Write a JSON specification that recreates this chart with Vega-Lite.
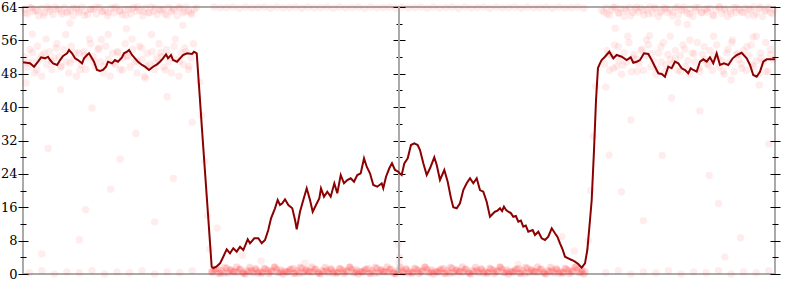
{
"$schema": "https://vega.github.io/schema/vega-lite/v6.json",
"width": 752, "height": 267,
"autosize": {"type": "none"},
"padding": {"left": 23, "top": 7, "right": 25, "bottom": 26},
"background": "white",
"config": {"view": {"stroke": "#aaaaaa", "strokeWidth": 2}, "axis": {"labelFont": "DejaVu Serif", "labelFontSize": 13, "labelColor": "#000000", "tickColor": "#000000", "tickWidth": 1, "domain": false, "grid": false, "zindex": 1}},
"datasets": {
"pts": [
{"x":-5.98,"y":63.5},{"x":-5.93,"y":62.3},{"x":-5.89,"y":63.9},{"x":-5.84,"y":62.9},{"x":-5.80,"y":63.2},{"x":-5.75,"y":61.9},{"x":-5.70,"y":63.7},{"x":-5.66,"y":62.6},{"x":-5.61,"y":64},{"x":-5.57,"y":63},{"x":-5.52,"y":62.2},{"x":-5.47,"y":63.4},
{"x":-5.43,"y":63.5},{"x":-5.38,"y":62.3},{"x":-5.34,"y":63.9},{"x":-5.29,"y":62.9},{"x":-5.24,"y":63.2},{"x":-5.20,"y":61.9},{"x":-5.15,"y":63.7},{"x":-5.11,"y":62.6},{"x":-5.06,"y":64},{"x":-5.01,"y":63},{"x":-4.97,"y":62.2},{"x":-4.92,"y":63.4},
{"x":-4.88,"y":63.5},{"x":-4.83,"y":62.3},{"x":-4.78,"y":63.9},{"x":-4.74,"y":62.9},{"x":-4.69,"y":63.2},{"x":-4.65,"y":61.9},{"x":-4.60,"y":63.7},{"x":-4.55,"y":62.6},{"x":-4.51,"y":64},{"x":-4.46,"y":63},{"x":-4.42,"y":62.2},{"x":-4.37,"y":63.4},
{"x":-4.32,"y":63.5},{"x":-4.28,"y":62.3},{"x":-4.23,"y":63.9},{"x":-4.19,"y":62.9},{"x":-4.14,"y":63.2},{"x":-4.09,"y":61.9},{"x":-4.05,"y":63.7},{"x":-4.00,"y":62.6},{"x":-3.96,"y":64},{"x":-3.91,"y":63},{"x":-3.86,"y":62.2},{"x":-3.82,"y":63.4},
{"x":-3.77,"y":63.5},{"x":-3.73,"y":62.3},{"x":-3.68,"y":63.9},{"x":-3.63,"y":62.9},{"x":-3.59,"y":63.2},{"x":-3.54,"y":61.9},{"x":-3.50,"y":63.7},{"x":-3.45,"y":62.6},{"x":-3.40,"y":64},{"x":-3.36,"y":63},{"x":-3.31,"y":62.2},{"x":-3.27,"y":63.4},
{"x":-5.96,"y":62.6},{"x":-5.86,"y":63.8},{"x":-5.77,"y":63.1},{"x":-5.67,"y":62.0},{"x":-5.58,"y":63.5},{"x":-5.49,"y":64},{"x":-5.39,"y":62.9},{"x":-5.30,"y":62.6},{"x":-5.20,"y":63.8},{"x":-5.11,"y":63.1},{"x":-5.02,"y":62.0},{"x":-4.92,"y":63.5},{"x":-4.83,"y":64},{"x":-4.73,"y":62.9},{"x":-4.64,"y":62.6},
{"x":-4.55,"y":63.8},{"x":-4.45,"y":63.1},{"x":-4.36,"y":62.0},{"x":-4.26,"y":63.5},{"x":-4.17,"y":64},{"x":-4.08,"y":62.9},{"x":-3.98,"y":62.6},{"x":-3.89,"y":63.8},{"x":-3.79,"y":63.1},{"x":-3.70,"y":62.0},{"x":-3.61,"y":63.5},{"x":-3.51,"y":64},{"x":-3.42,"y":62.9},{"x":-3.32,"y":62.6},{"x":-3.23,"y":63.8},
{"x":3.27,"y":62.8},{"x":3.31,"y":63.8},{"x":3.36,"y":62.1},{"x":3.40,"y":63.3},{"x":3.45,"y":64},{"x":3.50,"y":62.5},{"x":3.54,"y":63.6},{"x":3.59,"y":61.7},{"x":3.63,"y":63.1},{"x":3.68,"y":63.9},{"x":3.73,"y":62.7},{"x":3.77,"y":63.4},
{"x":3.82,"y":62.8},{"x":3.86,"y":63.8},{"x":3.91,"y":62.1},{"x":3.96,"y":63.3},{"x":4.00,"y":64},{"x":4.05,"y":62.5},{"x":4.09,"y":63.6},{"x":4.14,"y":61.7},{"x":4.19,"y":63.1},{"x":4.23,"y":63.9},{"x":4.28,"y":62.7},{"x":4.32,"y":63.4},
{"x":4.37,"y":62.8},{"x":4.42,"y":63.8},{"x":4.46,"y":62.1},{"x":4.51,"y":63.3},{"x":4.55,"y":64},{"x":4.60,"y":62.5},{"x":4.65,"y":63.6},{"x":4.69,"y":61.7},{"x":4.74,"y":63.1},{"x":4.78,"y":63.9},{"x":4.83,"y":62.7},{"x":4.88,"y":63.4},
{"x":4.92,"y":62.8},{"x":4.97,"y":63.8},{"x":5.01,"y":62.1},{"x":5.06,"y":63.3},{"x":5.11,"y":64},{"x":5.15,"y":62.5},{"x":5.20,"y":63.6},{"x":5.24,"y":61.7},{"x":5.29,"y":63.1},{"x":5.34,"y":63.9},{"x":5.38,"y":62.7},{"x":5.43,"y":63.4},
{"x":5.47,"y":62.8},{"x":5.52,"y":63.8},{"x":5.57,"y":62.1},{"x":5.61,"y":63.3},{"x":5.66,"y":64},{"x":5.70,"y":62.5},{"x":5.75,"y":63.6},{"x":5.80,"y":61.7},{"x":5.84,"y":63.1},{"x":5.89,"y":63.9},{"x":5.93,"y":62.7},{"x":5.98,"y":63.4},
{"x":3.23,"y":63.2},{"x":3.32,"y":62.4},{"x":3.42,"y":63.9},{"x":3.51,"y":62.7},{"x":3.61,"y":63.6},{"x":3.70,"y":61.9},{"x":3.79,"y":64},{"x":3.89,"y":63.2},{"x":3.98,"y":62.4},{"x":4.08,"y":63.9},{"x":4.17,"y":62.7},{"x":4.26,"y":63.6},{"x":4.36,"y":61.9},{"x":4.45,"y":64},{"x":4.55,"y":63.2},
{"x":4.64,"y":62.4},{"x":4.73,"y":63.9},{"x":4.83,"y":62.7},{"x":4.92,"y":63.6},{"x":5.02,"y":61.9},{"x":5.11,"y":64},{"x":5.20,"y":63.2},{"x":5.30,"y":62.4},{"x":5.39,"y":63.9},{"x":5.49,"y":62.7},{"x":5.58,"y":63.6},{"x":5.67,"y":61.9},{"x":5.77,"y":64},{"x":5.86,"y":63.2},{"x":5.96,"y":62.4},
{"x":-5.97,"y":52.1},{"x":-5.93,"y":49.6},{"x":-5.89,"y":53.8},{"x":-5.85,"y":50.9},{"x":-5.81,"y":48.2},{"x":-5.77,"y":54.6},{"x":-5.74,"y":51.5},{"x":-5.70,"y":47.4},{"x":-5.66,"y":52.9},{"x":-5.62,"y":50.2},{"x":-5.58,"y":53.3},{"x":-5.54,"y":49},{"x":-5.50,"y":51.8},{"x":-5.46,"y":55.2},
{"x":-5.42,"y":52.1},{"x":-5.39,"y":49.6},{"x":-5.35,"y":53.8},{"x":-5.31,"y":50.9},{"x":-5.27,"y":48.2},{"x":-5.23,"y":54.6},{"x":-5.19,"y":51.5},{"x":-5.15,"y":47.4},{"x":-5.11,"y":52.9},{"x":-5.07,"y":50.2},{"x":-5.03,"y":53.3},{"x":-5.00,"y":49},{"x":-4.96,"y":51.8},{"x":-4.92,"y":55.2},
{"x":-4.88,"y":52.1},{"x":-4.84,"y":49.6},{"x":-4.80,"y":53.8},{"x":-4.76,"y":50.9},{"x":-4.72,"y":48.2},{"x":-4.68,"y":54.6},{"x":-4.64,"y":51.5},{"x":-4.61,"y":47.4},{"x":-4.57,"y":52.9},{"x":-4.53,"y":50.2},{"x":-4.49,"y":53.3},{"x":-4.45,"y":49},{"x":-4.41,"y":51.8},{"x":-4.37,"y":55.2},
{"x":-4.33,"y":52.1},{"x":-4.29,"y":49.6},{"x":-4.25,"y":53.8},{"x":-4.22,"y":50.9},{"x":-4.18,"y":48.2},{"x":-4.14,"y":54.6},{"x":-4.10,"y":51.5},{"x":-4.06,"y":47.4},{"x":-4.02,"y":52.9},{"x":-3.98,"y":50.2},{"x":-3.94,"y":53.3},{"x":-3.90,"y":49},{"x":-3.86,"y":51.8},{"x":-3.83,"y":55.2},
{"x":-3.79,"y":52.1},{"x":-3.75,"y":49.6},{"x":-3.71,"y":53.8},{"x":-3.67,"y":50.9},{"x":-3.63,"y":48.2},{"x":-3.59,"y":54.6},{"x":-3.55,"y":51.5},{"x":-3.51,"y":47.4},{"x":-3.47,"y":52.9},{"x":-3.44,"y":50.2},{"x":-3.40,"y":53.3},{"x":-3.36,"y":49},{"x":-3.32,"y":51.8},{"x":-3.28,"y":55.2},
{"x":-5.93,"y":50.6},{"x":-5.85,"y":53.1},{"x":-5.78,"y":48.9},{"x":-5.70,"y":52.4},{"x":-5.63,"y":56.3},{"x":-5.55,"y":51.0},{"x":-5.47,"y":54.2},{"x":-5.40,"y":49.8},{"x":-5.32,"y":57.4},{"x":-5.25,"y":50.6},{"x":-5.17,"y":53.1},{"x":-5.09,"y":48.9},
{"x":-5.02,"y":52.4},{"x":-4.94,"y":56.3},{"x":-4.87,"y":51.0},{"x":-4.79,"y":54.2},{"x":-4.71,"y":49.8},{"x":-4.64,"y":57.4},{"x":-4.56,"y":50.6},{"x":-4.49,"y":53.1},{"x":-4.41,"y":48.9},{"x":-4.33,"y":52.4},{"x":-4.26,"y":56.3},{"x":-4.18,"y":51.0},
{"x":-4.11,"y":54.2},{"x":-4.03,"y":49.8},{"x":-3.95,"y":57.4},{"x":-3.88,"y":50.6},{"x":-3.80,"y":53.1},{"x":-3.73,"y":48.9},{"x":-3.65,"y":52.4},{"x":-3.57,"y":56.3},{"x":-3.50,"y":51.0},{"x":-3.42,"y":54.2},{"x":-3.35,"y":49.8},
{"x":3.28,"y":50.4},{"x":3.32,"y":53.6},{"x":3.36,"y":48.8},{"x":3.40,"y":52.3},{"x":3.44,"y":54.9},{"x":3.47,"y":49.7},{"x":3.51,"y":51.1},{"x":3.55,"y":47.9},{"x":3.59,"y":53},{"x":3.63,"y":50.8},{"x":3.67,"y":55.5},{"x":3.71,"y":48.5},{"x":3.75,"y":52.6},{"x":3.79,"y":51.4},
{"x":3.83,"y":50.4},{"x":3.86,"y":53.6},{"x":3.90,"y":48.8},{"x":3.94,"y":52.3},{"x":3.98,"y":54.9},{"x":4.02,"y":49.7},{"x":4.06,"y":51.1},{"x":4.10,"y":47.9},{"x":4.14,"y":53},{"x":4.18,"y":50.8},{"x":4.22,"y":55.5},{"x":4.25,"y":48.5},{"x":4.29,"y":52.6},{"x":4.33,"y":51.4},
{"x":4.37,"y":50.4},{"x":4.41,"y":53.6},{"x":4.45,"y":48.8},{"x":4.49,"y":52.3},{"x":4.53,"y":54.9},{"x":4.57,"y":49.7},{"x":4.61,"y":51.1},{"x":4.64,"y":47.9},{"x":4.68,"y":53},{"x":4.72,"y":50.8},{"x":4.76,"y":55.5},{"x":4.80,"y":48.5},{"x":4.84,"y":52.6},{"x":4.88,"y":51.4},
{"x":4.92,"y":50.4},{"x":4.96,"y":53.6},{"x":5.00,"y":48.8},{"x":5.03,"y":52.3},{"x":5.07,"y":54.9},{"x":5.11,"y":49.7},{"x":5.15,"y":51.1},{"x":5.19,"y":47.9},{"x":5.23,"y":53},{"x":5.27,"y":50.8},{"x":5.31,"y":55.5},{"x":5.35,"y":48.5},{"x":5.39,"y":52.6},{"x":5.42,"y":51.4},
{"x":5.46,"y":50.4},{"x":5.50,"y":53.6},{"x":5.54,"y":48.8},{"x":5.58,"y":52.3},{"x":5.62,"y":54.9},{"x":5.66,"y":49.7},{"x":5.70,"y":51.1},{"x":5.74,"y":47.9},{"x":5.77,"y":53},{"x":5.81,"y":50.8},{"x":5.85,"y":55.5},{"x":5.89,"y":48.5},{"x":5.93,"y":52.6},{"x":5.97,"y":51.4},
{"x":3.35,"y":52.8},{"x":3.42,"y":49.3},{"x":3.50,"y":54.5},{"x":3.57,"y":50.1},{"x":3.65,"y":57.0},{"x":3.73,"y":51.7},{"x":3.80,"y":48.6},{"x":3.88,"y":53.9},{"x":3.95,"y":56.1},{"x":4.03,"y":52.8},{"x":4.11,"y":49.3},{"x":4.18,"y":54.5},
{"x":4.26,"y":50.1},{"x":4.33,"y":57.0},{"x":4.41,"y":51.7},{"x":4.49,"y":48.6},{"x":4.56,"y":53.9},{"x":4.64,"y":56.1},{"x":4.71,"y":52.8},{"x":4.79,"y":49.3},{"x":4.87,"y":54.5},{"x":4.94,"y":50.1},{"x":5.02,"y":57.0},{"x":5.09,"y":51.7},
{"x":5.17,"y":48.6},{"x":5.25,"y":53.9},{"x":5.32,"y":56.1},{"x":5.40,"y":52.8},{"x":5.47,"y":49.3},{"x":5.55,"y":54.5},{"x":5.63,"y":50.1},{"x":5.70,"y":57.0},{"x":5.78,"y":51.7},{"x":5.85,"y":48.6},{"x":5.93,"y":53.9},
{"x":-5.85,"y":57.5},{"x":-5.4,"y":44.2},{"x":-4.9,"y":39.8},{"x":-4.35,"y":58.8},{"x":-3.7,"y":42.5},{"x":-5.6,"y":30.1},{"x":-4.6,"y":20.3},{"x":-3.9,"y":12.5},{"x":-5.1,"y":8.2},{"x":-4.2,"y":33.7},{"x":-3.45,"y":59.6},{"x":-5.95,"y":45.8},{"x":-4.75,"y":56.2},{"x":-3.3,"y":36.4},{"x":-5.25,"y":60.1},{"x":-4.05,"y":46.9},{"x":-5.7,"y":4.8},{"x":-4.45,"y":27.5},{"x":-3.6,"y":22.9},{"x":-5.0,"y":15.4},
{"x":3.3,"y":44.8},{"x":3.45,"y":58.9},{"x":3.7,"y":36.9},{"x":4.0,"y":57.1},{"x":4.35,"y":42.2},{"x":4.6,"y":59.8},{"x":4.95,"y":23.6},{"x":5.3,"y":46.5},{"x":5.65,"y":56.8},{"x":5.9,"y":31.2},{"x":3.9,"y":12.8},{"x":4.2,"y":28.4},{"x":5.1,"y":16.9},{"x":5.45,"y":8.7},{"x":3.55,"y":19.7},{"x":4.8,"y":39.1},{"x":5.75,"y":45.3},{"x":3.35,"y":28.5},{"x":4.45,"y":60.3},{"x":5.2,"y":4.1},
{"x":-3.18,"y":46},{"x":-3.15,"y":38},{"x":-3.1,"y":27},{"x":-3.06,"y":14},{"x":-3.02,"y":6},{"x":3.02,"y":8},{"x":3.06,"y":20},{"x":3.1,"y":33},{"x":3.14,"y":45},
{"x":-5.9,"y":0.3},{"x":-5.7,"y":0.8},{"x":-5.5,"y":0},{"x":-5.3,"y":0.5},{"x":-5.1,"y":0.3},{"x":-4.9,"y":0.8},{"x":-4.7,"y":0},{"x":-4.5,"y":0.5},{"x":-4.3,"y":0.3},{"x":-4.1,"y":0.8},{"x":-3.9,"y":0},{"x":-3.7,"y":0.5},{"x":-3.5,"y":0.3},{"x":-3.3,"y":0.8},
{"x":3.3,"y":0.3},{"x":3.5,"y":0.8},{"x":3.7,"y":0},{"x":3.9,"y":0.5},{"x":4.1,"y":0.3},{"x":4.3,"y":0.8},{"x":4.5,"y":0},{"x":4.7,"y":0.5},{"x":4.9,"y":0.3},{"x":5.1,"y":0.8},{"x":5.3,"y":0},{"x":5.5,"y":0.5},{"x":5.7,"y":0.3},{"x":5.9,"y":0.8},
{"x":-2.98,"y":0.4},{"x":-2.93,"y":1.2},{"x":-2.88,"y":0.1},{"x":-2.83,"y":0.8},{"x":-2.78,"y":1.6},{"x":-2.73,"y":0.3},{"x":-2.68,"y":1.0},{"x":-2.63,"y":0.6},
{"x":-2.58,"y":0.4},{"x":-2.53,"y":1.2},{"x":-2.48,"y":0.1},{"x":-2.43,"y":0.8},{"x":-2.38,"y":1.6},{"x":-2.33,"y":0.3},{"x":-2.28,"y":1.0},{"x":-2.23,"y":0.6},
{"x":-2.18,"y":0.4},{"x":-2.13,"y":1.2},{"x":-2.08,"y":0.1},{"x":-2.03,"y":0.8},{"x":-1.98,"y":1.6},{"x":-1.93,"y":0.3},{"x":-1.88,"y":1.0},{"x":-1.83,"y":0.6},
{"x":-1.78,"y":0.4},{"x":-1.73,"y":1.2},{"x":-1.68,"y":0.1},{"x":-1.63,"y":0.8},{"x":-1.58,"y":1.6},{"x":-1.53,"y":0.3},{"x":-1.48,"y":1.0},{"x":-1.43,"y":0.6},
{"x":-1.38,"y":0.4},{"x":-1.33,"y":1.2},{"x":-1.28,"y":0.1},{"x":-1.23,"y":0.8},{"x":-1.18,"y":1.6},{"x":-1.13,"y":0.3},{"x":-1.08,"y":1.0},{"x":-1.03,"y":0.6},
{"x":-0.98,"y":0.4},{"x":-0.93,"y":1.2},{"x":-0.88,"y":0.1},{"x":-0.83,"y":0.8},{"x":-0.78,"y":1.6},{"x":-0.73,"y":0.3},{"x":-0.68,"y":1.0},{"x":-0.63,"y":0.6},
{"x":-0.58,"y":0.4},{"x":-0.53,"y":1.2},{"x":-0.48,"y":0.1},{"x":-0.43,"y":0.8},{"x":-0.38,"y":1.6},{"x":-0.33,"y":0.3},{"x":-0.28,"y":1.0},{"x":-0.23,"y":0.6},
{"x":-0.18,"y":0.4},{"x":-0.13,"y":1.2},{"x":-0.08,"y":0.1},{"x":-0.03,"y":0.8},{"x":0.02,"y":1.6},{"x":0.07,"y":0.3},{"x":0.12,"y":1.0},{"x":0.17,"y":0.6},
{"x":0.22,"y":0.4},{"x":0.27,"y":1.2},{"x":0.32,"y":0.1},{"x":0.37,"y":0.8},{"x":0.42,"y":1.6},{"x":0.47,"y":0.3},{"x":0.52,"y":1.0},{"x":0.57,"y":0.6},
{"x":0.62,"y":0.4},{"x":0.67,"y":1.2},{"x":0.72,"y":0.1},{"x":0.77,"y":0.8},{"x":0.82,"y":1.6},{"x":0.87,"y":0.3},{"x":0.92,"y":1.0},{"x":0.97,"y":0.6},
{"x":1.02,"y":0.4},{"x":1.07,"y":1.2},{"x":1.12,"y":0.1},{"x":1.17,"y":0.8},{"x":1.22,"y":1.6},{"x":1.27,"y":0.3},{"x":1.32,"y":1.0},{"x":1.37,"y":0.6},
{"x":1.42,"y":0.4},{"x":1.47,"y":1.2},{"x":1.52,"y":0.1},{"x":1.57,"y":0.8},{"x":1.62,"y":1.6},{"x":1.67,"y":0.3},{"x":1.72,"y":1.0},{"x":1.77,"y":0.6},
{"x":1.82,"y":0.4},{"x":1.87,"y":1.2},{"x":1.92,"y":0.1},{"x":1.97,"y":0.8},{"x":2.02,"y":1.6},{"x":2.07,"y":0.3},{"x":2.12,"y":1.0},{"x":2.17,"y":0.6},
{"x":2.22,"y":0.4},{"x":2.27,"y":1.2},{"x":2.32,"y":0.1},{"x":2.37,"y":0.8},{"x":2.42,"y":1.6},{"x":2.47,"y":0.3},{"x":2.52,"y":1.0},{"x":2.57,"y":0.6},
{"x":2.62,"y":0.4},{"x":2.67,"y":1.2},{"x":2.72,"y":0.1},{"x":2.77,"y":0.8},{"x":2.82,"y":1.6},{"x":2.87,"y":0.3},{"x":2.92,"y":1.0},{"x":2.97,"y":0.6},
{"x":-2.95,"y":0.9},{"x":-2.85,"y":0.2},{"x":-2.75,"y":1.4},{"x":-2.65,"y":0.5},{"x":-2.55,"y":1.1},{"x":-2.45,"y":0},{"x":-2.35,"y":0.9},{"x":-2.25,"y":0.2},{"x":-2.15,"y":1.4},{"x":-2.05,"y":0.5},
{"x":-1.95,"y":1.1},{"x":-1.85,"y":0},{"x":-1.75,"y":0.9},{"x":-1.65,"y":0.2},{"x":-1.55,"y":1.4},{"x":-1.45,"y":0.5},{"x":-1.35,"y":1.1},{"x":-1.25,"y":0},{"x":-1.15,"y":0.9},{"x":-1.05,"y":0.2},
{"x":-0.95,"y":1.4},{"x":-0.85,"y":0.5},{"x":-0.75,"y":1.1},{"x":-0.65,"y":0},{"x":-0.55,"y":0.9},{"x":-0.45,"y":0.2},{"x":-0.35,"y":1.4},{"x":-0.25,"y":0.5},{"x":-0.15,"y":1.1},{"x":-0.05,"y":0},
{"x":0.05,"y":0.9},{"x":0.15,"y":0.2},{"x":0.25,"y":1.4},{"x":0.35,"y":0.5},{"x":0.45,"y":1.1},{"x":0.55,"y":0},{"x":0.65,"y":0.9},{"x":0.75,"y":0.2},{"x":0.85,"y":1.4},{"x":0.95,"y":0.5},
{"x":1.05,"y":1.1},{"x":1.15,"y":0},{"x":1.25,"y":0.9},{"x":1.35,"y":0.2},{"x":1.45,"y":1.4},{"x":1.55,"y":0.5},{"x":1.65,"y":1.1},{"x":1.75,"y":0},{"x":1.85,"y":0.9},{"x":1.95,"y":0.2},
{"x":2.05,"y":1.4},{"x":2.15,"y":0.5},{"x":2.25,"y":1.1},{"x":2.35,"y":0},{"x":2.45,"y":0.9},{"x":2.55,"y":0.2},{"x":2.65,"y":1.4},{"x":2.75,"y":0.5},{"x":2.85,"y":1.1},{"x":2.95,"y":0},
{"x":-2.99,"y":0.6},{"x":-2.89,"y":1.3},{"x":-2.79,"y":0.2},{"x":-2.69,"y":0.9},{"x":-2.59,"y":1.7},{"x":-2.49,"y":0.4},{"x":-2.39,"y":0.6},{"x":-2.29,"y":1.3},{"x":-2.19,"y":0.2},{"x":-2.09,"y":0.9},
{"x":-1.99,"y":1.7},{"x":-1.89,"y":0.4},{"x":-1.79,"y":0.6},{"x":-1.69,"y":1.3},{"x":-1.59,"y":0.2},{"x":-1.49,"y":0.9},{"x":-1.39,"y":1.7},{"x":-1.29,"y":0.4},{"x":-1.19,"y":0.6},{"x":-1.09,"y":1.3},
{"x":-0.99,"y":0.2},{"x":-0.89,"y":0.9},{"x":-0.79,"y":1.7},{"x":-0.69,"y":0.4},{"x":-0.59,"y":0.6},{"x":-0.49,"y":1.3},{"x":-0.39,"y":0.2},{"x":-0.29,"y":0.9},{"x":-0.19,"y":1.7},{"x":-0.09,"y":0.4},
{"x":0.01,"y":0.6},{"x":0.11,"y":1.3},{"x":0.21,"y":0.2},{"x":0.31,"y":0.9},{"x":0.41,"y":1.7},{"x":0.51,"y":0.4},{"x":0.61,"y":0.6},{"x":0.71,"y":1.3},{"x":0.81,"y":0.2},{"x":0.91,"y":0.9},
{"x":1.01,"y":1.7},{"x":1.11,"y":0.4},{"x":1.21,"y":0.6},{"x":1.31,"y":1.3},{"x":1.41,"y":0.2},{"x":1.51,"y":0.9},{"x":1.61,"y":1.7},{"x":1.71,"y":0.4},{"x":1.81,"y":0.6},{"x":1.91,"y":1.3},
{"x":2.01,"y":0.2},{"x":2.11,"y":0.9},{"x":2.21,"y":1.7},{"x":2.31,"y":0.4},{"x":2.41,"y":0.6},{"x":2.51,"y":1.3},{"x":2.61,"y":0.2},{"x":2.71,"y":0.9},{"x":2.81,"y":1.7},{"x":2.91,"y":0.4},
{"x":-2.95,"y":64},{"x":-2.85,"y":63.8},{"x":-2.75,"y":63.9},{"x":-2.65,"y":64},{"x":-2.55,"y":63.7},{"x":-2.45,"y":64},{"x":-2.35,"y":63.8},{"x":-2.25,"y":63.9},{"x":-2.15,"y":64},{"x":-2.05,"y":63.7},
{"x":-1.95,"y":64},{"x":-1.85,"y":63.8},{"x":-1.75,"y":63.9},{"x":-1.65,"y":64},{"x":-1.55,"y":63.7},{"x":-1.45,"y":64},{"x":-1.35,"y":63.8},{"x":-1.25,"y":63.9},{"x":-1.15,"y":64},{"x":-1.05,"y":63.7},
{"x":-0.95,"y":64},{"x":-0.85,"y":63.8},{"x":-0.75,"y":63.9},{"x":-0.65,"y":64},{"x":-0.55,"y":63.7},{"x":-0.45,"y":64},{"x":-0.35,"y":63.8},{"x":-0.25,"y":63.9},{"x":-0.15,"y":64},{"x":-0.05,"y":63.7},
{"x":0.05,"y":64},{"x":0.15,"y":63.8},{"x":0.25,"y":63.9},{"x":0.35,"y":64},{"x":0.45,"y":63.7},{"x":0.55,"y":64},{"x":0.65,"y":63.8},{"x":0.75,"y":63.9},{"x":0.85,"y":64},{"x":0.95,"y":63.7},
{"x":1.05,"y":64},{"x":1.15,"y":63.8},{"x":1.25,"y":63.9},{"x":1.35,"y":64},{"x":1.45,"y":63.7},{"x":1.55,"y":64},{"x":1.65,"y":63.8},{"x":1.75,"y":63.9},{"x":1.85,"y":64},{"x":1.95,"y":63.7},
{"x":2.05,"y":64},{"x":2.15,"y":63.8},{"x":2.25,"y":63.9},{"x":2.35,"y":64},{"x":2.45,"y":63.7},{"x":2.55,"y":64},{"x":2.65,"y":63.8},{"x":2.75,"y":63.9},{"x":2.85,"y":64},{"x":2.95,"y":63.7},
{"x":-2.9,"y":11},{"x":-2.5,"y":4.5},{"x":-1.5,"y":2.6},{"x":2.8,"y":5.5},{"x":2.6,"y":9},{"x":0.01,"y":4},{"x":-0.01,"y":7},{"x":0.0,"y":2.5},{"x":1.9,"y":2.3},{"x":-2.2,"y":3.1}
],
"ln": [
{"x":-6.000,"y":50.74},{"x":-5.888,"y":50.50},{"x":-5.824,"y":49.69},{"x":-5.760,"y":50.89},{"x":-5.711,"y":51.94},{"x":-5.648,"y":51.70},{"x":-5.600,"y":52.08},{"x":-5.568,"y":51.29},{"x":-5.520,"y":50.50},{"x":-5.456,"y":50.10},{"x":-5.408,"y":51.29},{"x":-5.360,"y":52.25},{"x":-5.296,"y":52.90},{"x":-5.265,"y":53.69},{"x":-5.218,"y":52.90},{"x":-5.169,"y":51.70},{"x":-5.122,"y":51.29},{"x":-5.058,"y":50.50},{"x":-5.026,"y":51.70},{"x":-4.978,"y":52.49},{"x":-4.946,"y":52.90},{"x":-4.899,"y":51.70},{"x":-4.867,"y":50.89},{"x":-4.819,"y":48.90},{"x":-4.771,"y":48.66},{"x":-4.723,"y":48.90},{"x":-4.675,"y":49.69},{"x":-4.643,"y":50.89},{"x":-4.580,"y":50.50},{"x":-4.532,"y":51.29},{"x":-4.484,"y":50.89},{"x":-4.420,"y":51.94},{"x":-4.388,"y":52.90},{"x":-4.340,"y":53.28},{"x":-4.308,"y":53.69},{"x":-4.260,"y":52.49},{"x":-4.213,"y":51.70},{"x":-4.165,"y":50.89},{"x":-4.101,"y":50.10},{"x":-4.053,"y":49.69},{"x":-3.989,"y":48.90},{"x":-3.925,"y":49.69},{"x":-3.861,"y":50.26},{"x":-3.814,"y":50.89},{"x":-3.766,"y":51.70},{"x":-3.718,"y":52.66},{"x":-3.686,"y":51.70},{"x":-3.638,"y":52.49},{"x":-3.606,"y":51.29},{"x":-3.542,"y":50.89},{"x":-3.494,"y":51.70},{"x":-3.447,"y":52.49},{"x":-3.383,"y":52.90},{"x":-3.303,"y":52.73},{"x":-3.271,"y":53.28},
{"x":-3.228,"y":52.9},{"x":-3.191,"y":45.06},{"x":-3.144,"y":34.76},{"x":-3.096,"y":24.57},{"x":-3.048,"y":14.38},{"x":-3.008,"y":5.75},{"x":-2.989,"y":1.75},{"x":-2.963,"y":1.44},{"x":-2.913,"y":1.75},{"x":-2.856,"y":2.56},{"x":-2.804,"y":4.15},{"x":-2.749,"y":5.92},{"x":-2.697,"y":4.96},{"x":-2.644,"y":6.16},{"x":-2.590,"y":5.35},{"x":-2.537,"y":6.54},{"x":-2.484,"y":5.75},{"x":-2.414,"y":8.32},{"x":-2.378,"y":7.36},{"x":-2.309,"y":8.56},{"x":-2.245,"y":8.56},{"x":-2.191,"y":7.36},{"x":-2.138,"y":8.15},{"x":-2.086,"y":10.55},{"x":-2.042,"y":13.35},{"x":-1.979,"y":15.75},{"x":-1.936,"y":17.74},{"x":-1.899,"y":16.54},{"x":-1.862,"y":16.95},{"x":-1.819,"y":17.91},{"x":-1.766,"y":16.54},{"x":-1.703,"y":15.75},{"x":-1.659,"y":12.94},{"x":-1.632,"y":10.71},{"x":-1.580,"y":14.93},{"x":-1.527,"y":17.74},{"x":-1.473,"y":20.54},{"x":-1.420,"y":17.74},{"x":-1.377,"y":14.93},{"x":-1.324,"y":16.54},{"x":-1.272,"y":18.14},{"x":-1.245,"y":20.54},{"x":-1.197,"y":18.53},{"x":-1.144,"y":19.73},{"x":-1.090,"y":18.53},{"x":-1.032,"y":21.74},{"x":-0.985,"y":19.34},{"x":-0.930,"y":23.73},{"x":-0.878,"y":21.74},{"x":-0.825,"y":22.53},{"x":-0.771,"y":22.94},{"x":-0.718,"y":22.12},{"x":-0.665,"y":23.73},{"x":-0.611,"y":24.14},{"x":-0.558,"y":27.73},{"x":-0.515,"y":25.72},{"x":-0.463,"y":24.14},{"x":-0.410,"y":21.33},{"x":-0.346,"y":20.93},{"x":-0.276,"y":21.74},{"x":-0.251,"y":20.54},{"x":-0.207,"y":23.32},{"x":-0.155,"y":25.34},{"x":-0.112,"y":26.53},{"x":-0.064,"y":24.93},{"x":-0.011,"y":24.52},
{"x":0.000,"y":24.28},{"x":0.043,"y":23.73},{"x":0.085,"y":26.53},{"x":0.139,"y":27.73},{"x":0.191,"y":30.92},{"x":0.244,"y":31.33},{"x":0.298,"y":30.92},{"x":0.335,"y":29.72},{"x":0.388,"y":26.53},{"x":0.442,"y":23.73},{"x":0.495,"y":25.34},{"x":0.563,"y":27.97},{"x":0.602,"y":26.13},{"x":0.654,"y":22.53},{"x":0.723,"y":24.93},{"x":0.777,"y":22.12},{"x":0.830,"y":18.14},{"x":0.866,"y":15.99},{"x":0.921,"y":15.75},{"x":0.973,"y":16.95},{"x":1.026,"y":20.13},{"x":1.080,"y":21.74},{"x":1.133,"y":22.94},{"x":1.186,"y":21.74},{"x":1.240,"y":22.94},{"x":1.292,"y":20.13},{"x":1.345,"y":19.73},{"x":1.399,"y":17.33},{"x":1.452,"y":13.73},{"x":1.505,"y":14.55},{"x":1.532,"y":14.93},{"x":1.572,"y":15.2},{"x":1.612,"y":15.75},{"x":1.645,"y":15.1},{"x":1.675,"y":16.13},{"x":1.71,"y":15.3},{"x":1.744,"y":14.93},{"x":1.785,"y":14.6},{"x":1.824,"y":13.73},{"x":1.865,"y":13.9},{"x":1.904,"y":12.54},{"x":1.945,"y":12.8},{"x":1.983,"y":11.34},{"x":2.023,"y":11.6},{"x":2.063,"y":10.14},{"x":2.133,"y":10.55},{"x":2.170,"y":9.35},{"x":2.223,"y":10.14},{"x":2.277,"y":8.56},{"x":2.330,"y":8.15},{"x":2.382,"y":8.94},{"x":2.437,"y":10.95},{"x":2.489,"y":9.76},{"x":2.529,"y":8.9},{"x":2.569,"y":7.36},{"x":2.61,"y":5.9},{"x":2.649,"y":4.15},{"x":2.701,"y":3.76},{"x":2.756,"y":3.36},{"x":2.808,"y":2.95},{"x":2.861,"y":2.40},{"x":2.915,"y":1.51},{"x":2.968,"y":2.56},{"x":3.005,"y":5.75},{"x":3.048,"y":12.94},{"x":3.075,"y":17.74},{"x":3.112,"y":29.72},{"x":3.144,"y":41.71},{"x":3.175,"y":49.38},
{"x":3.207,"y":50.50},{"x":3.234,"y":51.29},{"x":3.287,"y":52.08},{"x":3.356,"y":53.28},{"x":3.420,"y":51.70},{"x":3.474,"y":52.49},{"x":3.554,"y":52.08},{"x":3.633,"y":51.29},{"x":3.697,"y":51.94},{"x":3.739,"y":50.65},{"x":3.793,"y":50.89},{"x":3.846,"y":51.29},{"x":3.909,"y":52.90},{"x":3.978,"y":52.73},{"x":4.032,"y":51.29},{"x":4.085,"y":49.69},{"x":4.138,"y":48.11},{"x":4.192,"y":47.94},{"x":4.244,"y":47.29},{"x":4.297,"y":49.69},{"x":4.351,"y":49.31},{"x":4.404,"y":50.89},{"x":4.457,"y":50.50},{"x":4.511,"y":49.31},{"x":4.564,"y":48.90},{"x":4.616,"y":48.11},{"x":4.655,"y":49.31},{"x":4.696,"y":48.90},{"x":4.750,"y":48.49},{"x":4.803,"y":50.89},{"x":4.856,"y":51.46},{"x":4.910,"y":50.89},{"x":4.962,"y":51.94},{"x":5.015,"y":50.50},{"x":5.069,"y":52.90},{"x":5.122,"y":50.10},{"x":5.186,"y":50.50},{"x":5.254,"y":50.10},{"x":5.325,"y":51.70},{"x":5.389,"y":52.49},{"x":5.468,"y":53.04},{"x":5.548,"y":51.70},{"x":5.601,"y":50.10},{"x":5.653,"y":47.70},{"x":5.708,"y":47.29},{"x":5.760,"y":48.49},{"x":5.813,"y":50.89},{"x":5.867,"y":51.46},{"x":5.947,"y":51.46},{"x":6.0,"y":51.46}
]
},
"resolve": {"axis": {"y": "independent"}},
"layer": [
{"data": {"name": "pts"},
 "mark": {"type": "circle", "size": 55, "color": "#ff1a1a", "opacity": 0.08},
 "encoding": {
  "x": {"field": "x", "type": "quantitative", "scale": {"domain": [-6, 6], "nice": false, "zero": false},
   "axis": {"orient": "bottom", "values": [-6,-5,-4,-3,-2,-1,0,1,2,3,4,5,6], "labelExpr": "['-e+308','-e+206','-e+103','-1','-e-102','-e-205','0','e-206','e-103','1','e+102','e+205','2e+308'][round(datum.value)+6]", "offset": -6, "tickSize": 12, "labelPadding": 3, "labelFlush": false, "labelOverlap": false, "title": null}},
  "y": {"field": "y", "type": "quantitative", "scale": {"domain": [0, 64], "nice": false, "zero": false},
   "axis": {"orient": "left", "values": [0,8,16,24,32,40,48,56,64], "offset": -5, "tickSize": 10, "labelPadding": 1, "title": null}}
 }},
{"data": {"name": "pts"},
 "transform": [{"filter": "datum.y < 2 && abs(datum.x) < 3.05"}],
 "mark": {"type": "circle", "size": 45, "color": "#ff1a1a", "opacity": 0.09},
 "encoding": {
  "x": {"field": "x", "type": "quantitative", "scale": {"domain": [-6, 6], "nice": false, "zero": false}, "axis": null},
  "y": {"field": "y", "type": "quantitative", "scale": {"domain": [0, 64], "nice": false, "zero": false}, "axis": null}
 }},
{"data": {"values": [{}]},
 "mark": {"type": "rule", "color": "#aaaaaa", "strokeWidth": 2},
 "encoding": {
  "x": {"datum": 0, "type": "quantitative", "scale": {"domain": [-6, 6], "nice": false, "zero": false}, "axis": null},
  "y": {"datum": 0, "type": "quantitative", "scale": {"domain": [0, 64], "nice": false, "zero": false},
   "axis": {"orient": "right", "values": [0,8,16,24,32,40,48,56,64], "offset": -5, "tickSize": 10, "labels": false, "title": null}},
  "y2": {"datum": 64}
 }},
{"data": {"values": [{}]},
 "mark": {"type": "rule", "color": "#aaaaaa", "strokeWidth": 2},
 "encoding": {
  "x": {"datum": 0, "type": "quantitative", "scale": {"domain": [-6, 6], "nice": false, "zero": false}, "axis": null},
  "y": {"datum": 0, "type": "quantitative", "scale": {"domain": [0, 64], "nice": false, "zero": false},
   "axis": {"orient": "right", "values": [4,12,20,28,36,44,52,60], "offset": -3, "tickSize": 6, "labels": false, "title": null}},
  "y2": {"datum": 64}
 }},
{"data": {"values": [{}]},
 "mark": {"type": "rule", "color": "#aaaaaa", "strokeWidth": 2},
 "encoding": {
  "x": {"datum": 0, "type": "quantitative", "scale": {"domain": [-6, 6], "nice": false, "zero": false}, "axis": null},
  "y": {"datum": 0, "type": "quantitative", "scale": {"domain": [0, 64], "nice": false, "zero": false},
   "axis": {"orient": "right", "values": [0,8,16,24,32,40,48,56,64], "offset": -382, "tickSize": 12, "labels": false, "title": null}},
  "y2": {"datum": 64}
 }},
{"data": {"values": [{}]},
 "mark": {"type": "rule", "color": "#aaaaaa", "strokeWidth": 2},
 "encoding": {
  "x": {"datum": 0, "type": "quantitative", "scale": {"domain": [-6, 6], "nice": false, "zero": false}, "axis": null},
  "y": {"datum": 0, "type": "quantitative", "scale": {"domain": [0, 64], "nice": false, "zero": false},
   "axis": {"orient": "right", "values": [4,12,20,28,36,44,52,60], "offset": -379, "tickSize": 6, "labels": false, "title": null}},
  "y2": {"datum": 64}
 }},
{"data": {"name": "ln"},
 "mark": {"type": "line", "color": "#8b0000", "strokeWidth": 2},
 "encoding": {
  "x": {"field": "x", "type": "quantitative", "scale": {"domain": [-6, 6], "nice": false, "zero": false}, "axis": null},
  "y": {"field": "y", "type": "quantitative", "scale": {"domain": [0, 64], "nice": false, "zero": false},
   "axis": {"orient": "left", "values": [4,12,20,28,36,44,52,60], "offset": -3, "tickSize": 6, "labels": false, "title": null}}
 }}
]
}
